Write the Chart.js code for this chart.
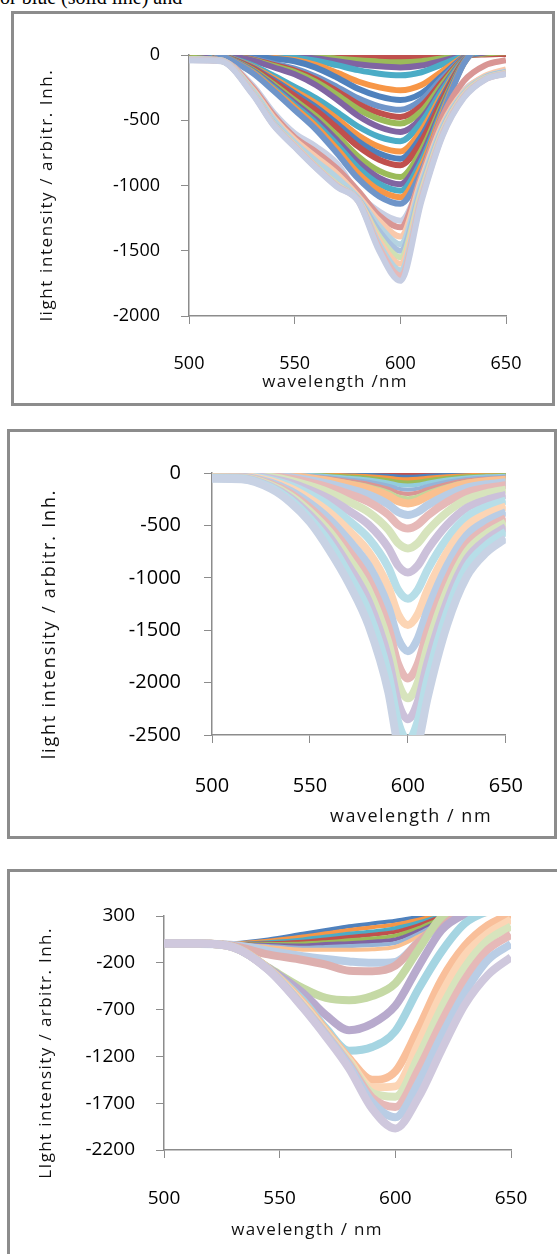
<!DOCTYPE html>
<html>
<head>
<meta charset="utf-8">
<script src="https://cdn.jsdelivr.net/npm/chart.js@4.4.0/dist/chart.umd.min.js"></script>
<style>
  body { margin: 0; width: 557px; height: 1254px; overflow: hidden; background: #fff; position: relative; font-family: "Open Sans", sans-serif; }
  .frame { position: absolute; border: 3px solid #8c8c8c; box-sizing: border-box; }
  canvas { position: absolute; }
  .lbl { position: absolute; white-space: nowrap; color: #111; transform: translate(-50%, -50%); line-height: 1; }
  .ylbl { transform: translate(-50%, -50%) rotate(-90deg); }
  .cut { position: absolute; left: 0; top: -13px; font: 20px "Liberation Serif", serif; line-height: 20px; white-space: nowrap; color: #000; }
</style>
</head>
<body>
<div class="cut">or blue (solid line) and</div>

<div class="frame" style="left:11px;top:11px;width:544px;height:395px"></div>
<div class="frame" style="left:7px;top:429px;width:550px;height:410px"></div>
<div class="frame" style="left:7px;top:869px;width:560px;height:400px"></div>

<canvas id="chart1" width="538" height="388" style="left:14px;top:14px"></canvas>
<canvas id="chart2" width="544" height="404" style="left:10px;top:432px"></canvas>
<canvas id="chart3" width="547" height="382" style="left:10px;top:872px"></canvas>

<div class="lbl ylbl" style="left:45px;top:195px;font-size:17px;letter-spacing:1.6px">light intensity / arbitr. Inh.</div>
<div class="lbl" style="left:335px;top:380px;font-size:17px;letter-spacing:1.3px">wavelength /nm</div>
<div class="lbl ylbl" style="left:48px;top:624px;font-size:18px;letter-spacing:1.8px">light intensity / arbitr. Inh.</div>
<div class="lbl" style="left:411px;top:815px;font-size:18px;letter-spacing:1.5px">wavelength / nm</div>
<div class="lbl ylbl" style="left:44px;top:1053px;font-size:17px;letter-spacing:1.4px">LIght intensity / arbitr. Inh.</div>
<div class="lbl" style="left:307px;top:1228px;font-size:17px;letter-spacing:1.3px">wavelength / nm</div>

<script>
// ---- panel 1 data (wavelength in nm, intensity arbitr. units) ----
const p1Wavelength = [500, 515, 530, 540, 550, 560, 570, 580, 590, 600, 610, 620, 630, 640, 650];
const p1Values = [
  [6, 1, -1, -2, -3, -6, -10, -15, -18, -20, -17, -9, -1, 4, 8],
  [17, 3, -2, -4, -8, -15, -28, -41, -51, -55, -47, -25, -3, 11, 22],
  [29, 5, -3, -8, -13, -27, -48, -71, -87, -95, -81, -43, -5, 19, 38],
  [47, 8, -5, -12, -22, -43, -78, -116, -143, -155, -132, -70, -8, 31, 62],
  [81, 14, -8, -22, -38, -76, -135, -203, -248, -270, -230, -122, -14, 54, 108],
  [104, 17, -10, -28, -48, -97, -173, -259, -317, -345, -293, -155, -17, 69, 138],
  [84, 8, -29, -67, -105, -164, -244, -332, -393, -420, -344, -176, -23, 63, 126],
  [95, 10, -33, -76, -119, -185, -276, -375, -444, -475, -390, -200, -26, 71, 143],
  [105, 11, -37, -84, -131, -205, -305, -415, -491, -525, -431, -221, -29, 79, 158],
  [118, 12, -41, -94, -148, -230, -342, -466, -552, -590, -484, -248, -32, 89, 177],
  [66, 0, -79, -158, -244, -330, -436, -548, -627, -660, -515, -264, -40, 66, 132],
  [74, 0, -89, -178, -274, -370, -488, -614, -703, -740, -577, -296, -44, 74, 148],
  [80, 0, -95, -191, -294, -398, -525, -660, -755, -795, -620, -318, -48, 80, 159],
  [85, 0, -101, -203, -313, -423, -558, -701, -803, -845, -659, -338, -51, 85, 169],
  [94, 0, -112, -224, -346, -468, -617, -776, -888, -935, -729, -374, -56, 94, 187],
  [99, 0, -119, -238, -366, -495, -653, -822, -941, -990, -772, -396, -59, 99, 198],
  [104, 0, -125, -250, -385, -520, -686, -863, -988, -1040, -811, -416, -62, 104, 208],
  [109, 0, -131, -262, -403, -545, -719, -905, -1036, -1090, -850, -436, -65, 109, 218],
  [114, 0, -137, -274, -422, -570, -752, -946, -1083, -1140, -889, -456, -68, 114, 228],
  [-40, -45, -230, -440, -600, -700, -830, -1060, -1200, -1270, -960, -500, -270, -170, -130],
  [-30, -40, -245, -460, -630, -740, -870, -1040, -1230, -1320, -920, -470, -200, -80, -40],
  [-30, -40, -260, -480, -650, -780, -910, -1080, -1270, -1390, -950, -530, -280, -160, -110],
  [-30, -40, -270, -495, -670, -810, -940, -1095, -1310, -1450, -980, -550, -290, -170, -125],
  [-35, -45, -285, -520, -690, -850, -990, -1105, -1350, -1500, -1010, -565, -300, -175, -130],
  [-35, -45, -285, -525, -690, -850, -990, -1110, -1390, -1550, -1040, -580, -305, -178, -135],
  [-35, -45, -290, -530, -695, -855, -995, -1110, -1420, -1600, -1060, -590, -310, -182, -138],
  [-35, -45, -290, -530, -700, -860, -1000, -1115, -1450, -1650, -1080, -600, -318, -185, -140],
  [-38, -45, -295, -535, -700, -860, -1005, -1118, -1475, -1690, -1100, -610, -324, -188, -142],
  [-40, -48, -300, -540, -705, -865, -1010, -1120, -1500, -1730, -1120, -620, -330, -190, -145]
];
const p1Colors = ['#C0504D', '#9BBB59', '#8064A2', '#4BACC6', '#F79646', '#4F81BD', '#6F95C9',
  '#C0504D', '#9BBB59', '#8064A2', '#4BACC6', '#F79646', '#4F81BD', '#C0504D', '#9BBB59',
  '#8064A2', '#4BACC6', '#F79646', '#6F95C9',
  '#C9D0E4', '#D99694', '#F9C9AC', '#B5D3E1', '#A9C0DE', '#CFE0B4', '#F9C9AC', '#B5D3E1', '#E6B9B8', '#C6CDE2'];

// ---- panel 2 data ----
const p2Wavelength = [500, 515, 530, 540, 550, 560, 570, 580, 590, 595, 600, 605, 610, 620, 630, 640, 650];
const p2Values = [
  [0, 0, -1, -2, -3, -4, -6, -8, -11, -14, -15, -14, -12, -8, -5, -4, -3],
  [-1, -1, -2, -4, -6, -9, -13, -18, -26, -33, -35, -33, -27, -18, -12, -9, -8],
  [-1, -1, -3, -6, -10, -16, -23, -31, -45, -56, -60, -56, -46, -31, -21, -16, -13],
  [-2, -2, -5, -9, -15, -23, -34, -47, -68, -84, -90, -84, -69, -47, -32, -24, -20],
  [-2, -3, -6, -12, -20, -31, -46, -62, -90, -112, -120, -112, -92, -62, -42, -32, -26],
  [-3, -3, -9, -16, -27, -42, -61, -83, -120, -149, -160, -149, -123, -83, -56, -43, -35],
  [-4, -4, -11, -20, -34, -52, -76, -104, -150, -186, -200, -186, -154, -104, -70, -54, -44],
  [-5, -5, -13, -24, -41, -62, -91, -125, -180, -223, -240, -223, -185, -125, -84, -65, -53],
  [-6, -6, -16, -29, -49, -75, -110, -151, -218, -270, -290, -270, -223, -151, -102, -78, -64],
  [-8, -8, -22, -40, -68, -104, -152, -208, -300, -372, -400, -372, -308, -208, -140, -108, -88],
  [-11, -11, -29, -53, -90, -138, -201, -276, -398, -493, -530, -493, -408, -276, -186, -143, -117],
  [-14, -15, -39, -72, -122, -187, -274, -374, -540, -670, -720, -670, -554, -374, -252, -194, -158],
  [-19, -20, -51, -95, -162, -247, -361, -494, -713, -884, -950, -884, -732, -494, -333, -257, -209],
  [-24, -25, -65, -120, -204, -312, -456, -624, -900, -1116, -1200, -1116, -924, -624, -420, -324, -264],
  [-29, -30, -78, -145, -247, -377, -551, -754, -1088, -1349, -1450, -1349, -1117, -754, -508, -392, -319],
  [-34, -36, -92, -170, -289, -442, -646, -884, -1275, -1581, -1700, -1581, -1309, -884, -595, -459, -374],
  [-39, -41, -106, -196, -333, -510, -745, -1019, -1470, -1823, -1960, -1823, -1509, -1019, -686, -529, -431],
  [-43, -45, -116, -215, -366, -559, -817, -1118, -1613, -2000, -2150, -2000, -1656, -1118, -753, -581, -473],
  [-47, -49, -127, -235, -400, -611, -893, -1222, -1763, -2186, -2350, -2186, -1810, -1222, -823, -635, -517],
  [-51, -54, -138, -255, -434, -663, -969, -1326, -1913, -2372, -2550, -2372, -1964, -1326, -893, -689, -561],
  [-55, -60, -150, -280, -470, -740, -1060, -1460, -2090, -2604, -2800, -2604, -2150, -1450, -990, -760, -625]
];
const p2Colors = ['#C0504D', '#4F81BD', '#F79646', '#9BBB59', '#93CDDD', '#95B3D7', '#D99694', '#C3D69B',
  '#FAC090', '#B9CDE5', '#E6B9B8', '#D7E4BD', '#CCC1DA', '#B7DEE8', '#FCD5B5', '#B9CDE5',
  '#E6B9B8', '#D7E4BD', '#CCC1DA', '#B7DEE8', '#C8D2E4'];

// ---- panel 3 data ----
const p3Wavelength = [500, 515, 530, 545, 560, 570, 580, 590, 600, 610, 620, 630, 640, 650];
const p3Values = [
  [0, 0, 10, 50, 110, 150, 190, 220, 250, 290, 330, 360, 380, 400],
  [0, 0, 5, 35, 80, 115, 150, 180, 210, 260, 320, 350, 370, 390],
  [0, 0, 0, 20, 50, 80, 110, 135, 170, 230, 300, 340, 360, 380],
  [0, 0, 0, 10, 25, 50, 75, 100, 130, 200, 290, 330, 350, 370],
  [0, 0, -5, 0, 5, 20, 40, 60, 90, 170, 270, 320, 340, 360],
  [0, 0, -5, -10, -15, 0, 10, 25, 50, 140, 250, 310, 330, 350],
  [0, 0, -5, -20, -40, -30, -20, -10, 10, 110, 230, 300, 330, 350],
  [0, 0, -5, -30, -60, -60, -60, -55, -30, 80, 210, 290, 320, 340],
  [0, 0, -10, -70, -130, -160, -185, -200, -190, 20, 200, 320, 350, 360],
  [5, 5, -20, -110, -170, -220, -285, -290, -230, 20, 240, 400, 400, 400],
  [5, 5, -30, -250, -470, -575, -600, -555, -420, -60, 290, 400, 400, 400],
  [5, 5, -30, -255, -520, -760, -920, -850, -660, -240, 150, 320, 400, 400],
  [5, 5, -30, -260, -600, -900, -1140, -1100, -930, -480, -80, 220, 350, 400],
  [5, 5, -30, -260, -620, -920, -1220, -1450, -1360, -900, -380, -20, 200, 320],
  [5, 5, -35, -265, -640, -940, -1240, -1530, -1520, -1060, -530, -120, 115, 260],
  [5, 5, -35, -265, -650, -950, -1260, -1590, -1630, -1200, -680, -250, 40, 190],
  [5, 5, -35, -268, -660, -960, -1280, -1640, -1740, -1340, -830, -380, -60, 100],
  [5, 5, -35, -270, -670, -975, -1300, -1690, -1850, -1480, -980, -520, -170, 0],
  [5, 5, -35, -275, -680, -990, -1330, -1760, -1970, -1640, -1130, -650, -330, -140]
];
const p3Colors = ['#4F81BD', '#F79646', '#4BACC6', '#C0504D', '#9BBB59', '#8064A2', '#95B3D7', '#FAC090',
  '#B9CDE5', '#DDAFAE', '#C5D9A5', '#B8AACD', '#A5D5E2', '#F9BF9A', '#FCD5B5', '#D7E4BD',
  '#E6B9B8', '#B9CDE5', '#CFC8DD'];

// turn one panel's rows into line datasets, deeper curves drawn on top
function buildDatasets(wl, rows, colors, thinCount, thinWidth, width) {
  return rows.map((row, i) => ({
    data: row.map((v, j) => ({ x: wl[j], y: v })),
    borderColor: colors[i],
    borderWidth: i < thinCount ? thinWidth : width,
    pointRadius: 0,
    cubicInterpolationMode: 'monotone',
    fill: false,
    clip: 0,
    order: rows.length - i
  }));
}

const axisGrid = { drawOnChartArea: false, drawTicks: true, tickLength: 8, color: '#8c8c8c', lineWidth: 1 };
const axisBorder = { display: true, color: '#8c8c8c', width: 1.5 };

function drawPanel(id, datasets, cfg) {
  let ctx = document.getElementById(id).getContext('2d');
  new Chart(ctx, {
    type: 'line',
    data: { datasets: datasets },
    options: {
      responsive: false,
      animation: false,
      events: [],
      layout: { padding: { left: 0, top: cfg.padTop, right: cfg.padRight, bottom: 0 } },
      plugins: { legend: { display: false }, tooltip: { enabled: false } },
      scales: {
        x: {
          type: 'linear', min: 500, max: 650,
          afterFit: function(s) { s.height = cfg.xHeight; },
          ticks: {
            stepSize: 50, maxRotation: 0, autoSkip: false, padding: cfg.xPad, color: '#000',
            font: { family: 'Open Sans', size: cfg.font },
            callback: function(v) { return String(v); }
          },
          grid: axisGrid, border: axisBorder
        },
        y: {
          min: cfg.yMin, max: cfg.yMax,
          afterFit: function(s) { s.width = cfg.yWidth; },
          ticks: {
            stepSize: 500, padding: cfg.yPad, color: '#000',
            font: { family: 'Open Sans', size: cfg.font },
            callback: function(v) { return String(v); }
          },
          grid: axisGrid, border: axisBorder
        }
      }
    }
  });
}

drawPanel('chart1', buildDatasets(p1Wavelength, p1Values, p1Colors, 0, 6, 6),
  { yMin: -2000, yMax: 0, padTop: 41, padRight: 46, xHeight: 86, yWidth: 175, xPad: 29, yPad: 21, font: 18 });
drawPanel('chart2', buildDatasets(p2Wavelength, p2Values, p2Colors, 8, 4, 8),
  { yMin: -2500, yMax: 0, padTop: 41, padRight: 46, xHeight: 101, yWidth: 202, xPad: 31, yPad: 23, font: 20 });
drawPanel('chart3', buildDatasets(p3Wavelength, p3Values, p3Colors, 8, 4, 8),
  { yMin: -2200, yMax: 300, padTop: 44, padRight: 46, xHeight: 104, yWidth: 154, xPad: 29, yPad: 21, font: 19 });
</script>
</body>
</html>
